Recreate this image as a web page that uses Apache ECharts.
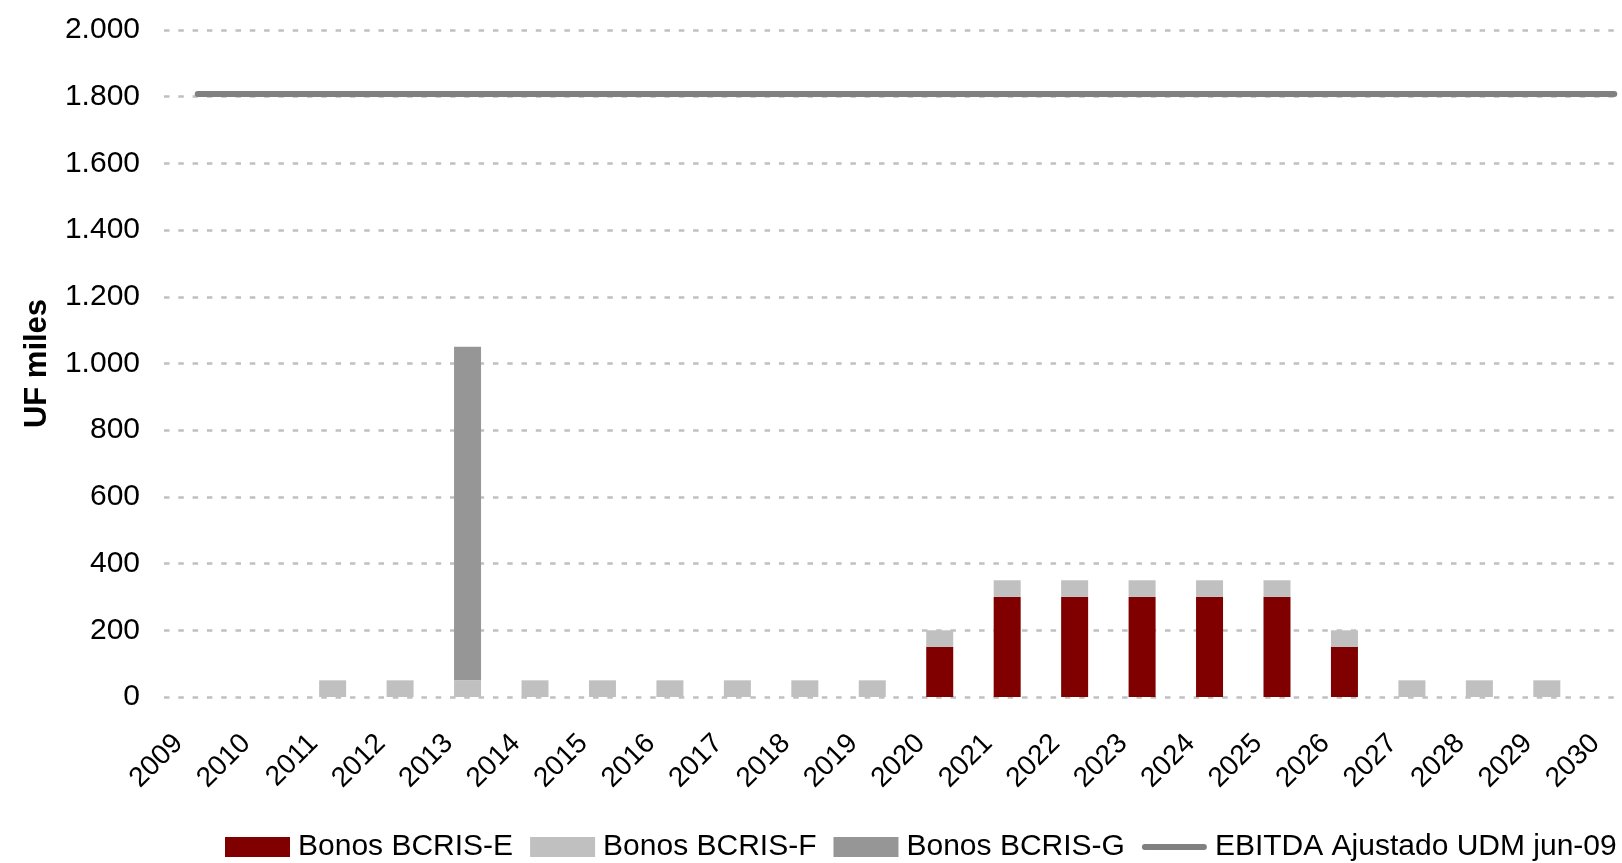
<!DOCTYPE html>
<html>
<head>
<meta charset="utf-8">
<script src="https://cdn.jsdelivr.net/npm/echarts@6/dist/echarts.min.js"></script>
<style>
  html, body { margin: 0; padding: 0; background: #fff; }
  #chart { width: 1622px; height: 863px; }
</style>
</head>
<body>
<div id="chart"></div>
<script>
// Maturity profile of bonds (UF thousands) against adjusted EBITDA
const years = ['2009','2010','2011','2012','2013','2014','2015','2016','2017','2018','2019',
               '2020','2021','2022','2023','2024','2025','2026','2027','2028','2029','2030'];
const bonosE = [0, 0, 0, 0, 0, 0, 0, 0, 0, 0, 0, 150, 300, 300, 300, 300, 300, 150, 0, 0, 0, 0];
const bonosF = [0, 0, 50, 50, 50, 50, 50, 50, 50, 50, 50, 50, 50, 50, 50, 50, 50, 50, 50, 50, 50, 0];
const bonosG = [0, 0, 0, 0, 1000, 0, 0, 0, 0, 0, 0, 0, 0, 0, 0, 0, 0, 0, 0, 0, 0, 0];
const ebitda = [1808, 1808, 1808, 1808, 1808, 1808, 1808, 1808, 1808, 1808, 1808,
                1808, 1808, 1808, 1808, 1808, 1808, 1808, 1808, 1808, 1808, 1808];
const seriesNames = ['Bonos BCRIS-E', 'Bonos BCRIS-F', 'Bonos BCRIS-G', 'EBITDA Ajustado UDM jun-09'];

const FONT = 'Liberation Sans, Arial, sans-serif';
const fmt = v => String(v).replace(/\B(?=(\d{3})+(?!\d))/g, '.');
const nz = arr => arr.map(v => (v === 0 ? '-' : v));

// legend glyph for the line: a thick round-capped stroke inside a 65x20 box
const LINE_ICON = 'path://M0,0 M65,20 M3,7 L62,7 A3,3 0 0 1 62,13 L3,13 A3,3 0 0 1 3,7 Z';

const chart = echarts.init(document.getElementById('chart'));
chart.setOption({
  animation: false,
  backgroundColor: '#ffffff',
  textStyle: { fontFamily: FONT, color: '#000' },
  grid: {
    left: 164, top: 30, width: 1484, height: 667,
    containLabel: false,
    outerBoundsMode: 'none'
  },
  legend: {
    left: 225,
    top: 832,
    width: 2200,
    padding: 0,
    itemWidth: 65,
    itemHeight: 20,
    itemGap: 17,
    textStyle: { fontFamily: FONT, fontSize: 30, color: '#000', padding: [0, 0, 0, 3] },
    data: [
      { name: seriesNames[0], icon: 'rect' },
      { name: seriesNames[1], icon: 'rect' },
      { name: seriesNames[2], icon: 'rect' },
      { name: seriesNames[3], icon: LINE_ICON, itemStyle: { color: '#808080', borderWidth: 0 } }
    ]
  },
  xAxis: {
    type: 'category',
    data: years,
    boundaryGap: true,
    axisLine: { show: false },
    axisTick: { show: false },
    axisLabel: {
      interval: 0,
      rotate: 45,
      margin: 23,
      padding: [0, 27, 0, 0],
      hideOverlap: false,
      fontFamily: FONT,
      fontSize: 28,
      color: '#000'
    },
    splitLine: { show: false }
  },
  yAxis: {
    type: 'value',
    min: 0,
    max: 2000,
    interval: 200,
    name: 'UF miles',
    nameLocation: 'middle',
    nameRotate: 90,
    nameGap: 111,
    nameTextStyle: { fontFamily: FONT, fontSize: 31, fontWeight: 'bold', color: '#000' },
    axisLine: { show: false },
    axisTick: { show: false },
    axisLabel: {
      margin: 24,
      fontFamily: FONT,
      fontSize: 30,
      color: '#000',
      formatter: fmt
    },
    splitLine: {
      show: true,
      lineStyle: { color: '#c0c0c0', width: 2.5, type: [5.5, 8.8] }
    }
  },
  series: [
    {
      name: seriesNames[0], type: 'bar', stack: 'deuda', barWidth: 27,
      itemStyle: { color: '#800000' }, data: nz(bonosE)
    },
    {
      name: seriesNames[1], type: 'bar', stack: 'deuda', barWidth: 27,
      itemStyle: { color: '#c0c0c0' }, data: nz(bonosF)
    },
    {
      name: seriesNames[2], type: 'bar', stack: 'deuda', barWidth: 27,
      itemStyle: { color: '#969696' }, data: nz(bonosG)
    },
    {
      name: seriesNames[3], type: 'line', symbol: 'none', showSymbol: false,
      lineStyle: { color: '#808080', width: 6, cap: 'round' },
      itemStyle: { color: '#808080' },
      z: 5,
      data: ebitda
    }
  ]
});
</script>
</body>
</html>
